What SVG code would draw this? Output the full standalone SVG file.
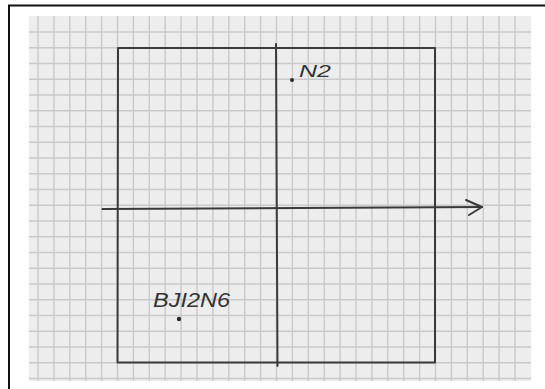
<svg xmlns="http://www.w3.org/2000/svg" width="545" height="389" viewBox="0 0 545 389">
  <style>
    .grid { stroke: #c9c9c9; stroke-width: 1.4; fill: none; }
    .ink { stroke: #3a3a3a; stroke-width: 2; fill: none; stroke-linecap: round; stroke-linejoin: round; }
    .hand { font-family: "Liberation Sans", Arial, sans-serif; font-style: italic; fill: #333333; }
  </style>
  <rect x="0" y="0" width="545" height="389" fill="#ffffff"/>
  <path d="M9,389 V5.5 H545" stroke="#111111" stroke-width="2" fill="none"/>
  <g id="paper">
    <rect x="29" y="16" width="502" height="365" fill="#ededed"/>
    <path class="grid" d="M38,16V381 M53.9,16V381 M69.8,16V381 M85.7,16V381 M101.6,16V381 M117.5,16V381 M133.4,16V381 M149.3,16V381 M165.2,16V381 M181.1,16V381 M197,16V381 M212.9,16V381 M228.8,16V381 M244.7,16V381 M260.6,16V381 M276.5,16V381 M292.4,16V381 M308.3,16V381 M324.2,16V381 M340.1,16V381 M356,16V381 M371.9,16V381 M387.8,16V381 M403.7,16V381 M419.6,16V381 M435.5,16V381 M451.4,16V381 M467.3,16V381 M483.2,16V381 M499.1,16V381 M515,16V381"/>
    <path class="grid" d="M29,32H531 M29,47.75H531 M29,63.5H531 M29,79.25H531 M29,95H531 M29,110.75H531 M29,126.5H531 M29,142.25H531 M29,158H531 M29,173.75H531 M29,189.5H531 M29,205.25H531 M29,221H531 M29,236.75H531 M29,252.5H531 M29,268.25H531 M29,284H531 M29,299.75H531 M29,315.5H531 M29,331.25H531 M29,347H531 M29,362.75H531 M29,378.5H531"/>
  </g>
  <g id="square">
    <path class="ink" d="M118,48 H435 V362.5 H117.5 Z"/>
  </g>
  <g id="axes">
    <path class="ink" d="M276,44 L277.5,366"/>
    <path class="ink" d="M102.5,209 L482,207"/>
    <path class="ink" d="M466,200 L482,207 L469,215"/>
  </g>
  <g id="point-n2">
    <circle cx="292" cy="80" r="2" fill="#2a2a2a"/>
    <text class="hand" x="299" y="77" font-size="17" textLength="32" lengthAdjust="spacingAndGlyphs">N2</text>
  </g>
  <g id="point-bji2n6">
    <circle cx="179" cy="319" r="2.2" fill="#2a2a2a"/>
    <text class="hand" x="153" y="307" font-size="20" textLength="77" lengthAdjust="spacingAndGlyphs">BJI2N6</text>
  </g>
</svg>
